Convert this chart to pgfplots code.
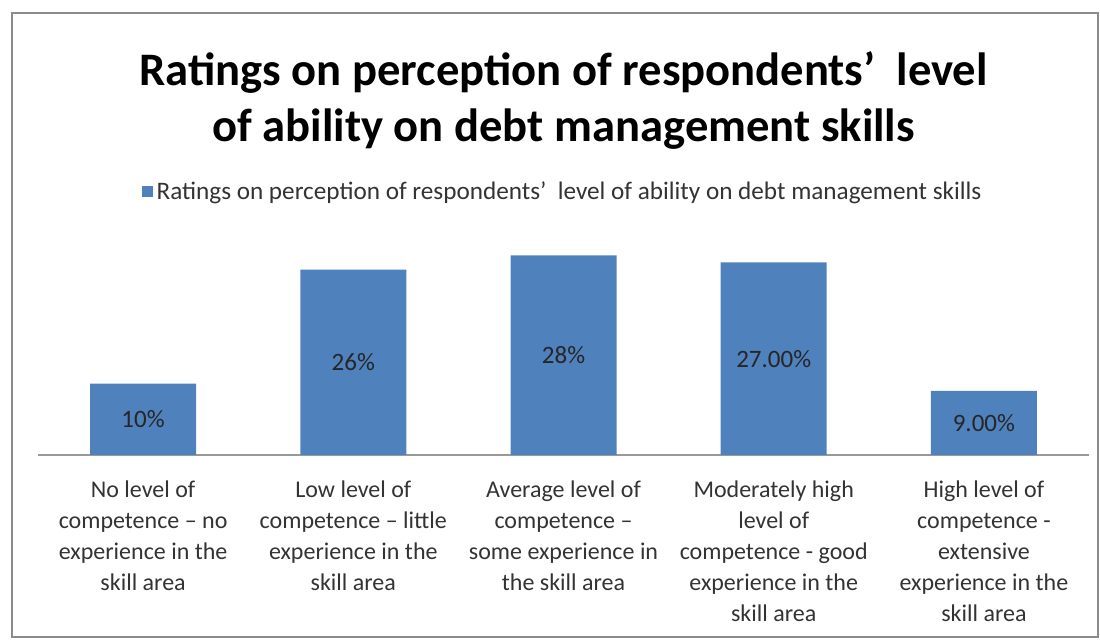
\documentclass[border=0pt]{standalone}
\usepackage{fontspec}
\setmainfont{Carlito}
\usepackage{pgfplots}
\pgfplotsset{compat=1.18}
\definecolor{barblue}{HTML}{4F81BD}
\definecolor{framegray}{HTML}{8C8C8C}
\begin{document}
\begin{tikzpicture}
\begin{axis}[
  scale only axis, width=525.5pt, height=107pt,
  xmin=-0.5, xmax=4.5, ymin=0, ymax=30,
  axis x line=bottom, axis y line=none,
  x axis line style={-, draw=gray!80, line width=0.6pt},
  xtick=data, major tick length=0pt, ytick=\empty,
  xticklabels={
    {No level of\\competence – no\\experience in the\\skill area},
    {Low level of\\competence – little\\experience in the\\skill area},
    {Average level of\\competence –\\some experience in\\the skill area},
    {Moderately high\\level of\\competence - good\\experience in the\\skill area},
    {High level of\\competence -\\extensive\\experience in the\\skill area}},
  xticklabel style={align=center, font=\fontsize{12}{15.5}\selectfont, text=black!80, yshift=-9.5pt},
  ybar, bar width=53pt,
  clip=false,
  nodes near coords, point meta=explicit symbolic,
  visualization depends on={y \as \rawy},
  every node near coord/.append style={anchor=center, yshift=-\rawy*1.78333pt, font=\fontsize{12.5}{14}\selectfont, text=black!85},
  legend style={at={(0.5,1)}, anchor=center, yshift=24.5pt, draw=none, fill=none, font=\fontsize{12.6}{14}\selectfont, text=black!80},
  legend image code/.code={\fill[barblue] (0pt,-2.75pt) rectangle (5.5pt,2.75pt);},
]
\addplot[fill=barblue, draw=none] coordinates {(0,10) [10\%] (1,26) [26\%] (2,28) [28\%] (3,27) [27.00\%] (4,9) [9.00\%]};
\addlegendentry{Ratings on perception of respondents’\ \ level of ability on debt management skills}
\node[anchor=base, font=\bfseries\fontsize{23.3}{27}\selectfont] at ([yshift=77.5pt]rel axis cs:0.5,1) {Ratings on perception of respondents’\ \ level};
\node[anchor=base, font=\bfseries\fontsize{23.3}{27}\selectfont] at ([yshift=49.5pt]rel axis cs:0.5,1) {of ability on debt management skills};
\draw[framegray, line width=0.8pt] ([xshift=-13pt,yshift=-91pt]rel axis cs:0,0) rectangle ([xshift=4.5pt,yshift=114pt]rel axis cs:1,1);
\path ([xshift=-19pt,yshift=-92.5pt]rel axis cs:0,0) rectangle ([xshift=5.5pt,yshift=120.5pt]rel axis cs:1,1);
\end{axis}
\end{tikzpicture}
\end{document}
